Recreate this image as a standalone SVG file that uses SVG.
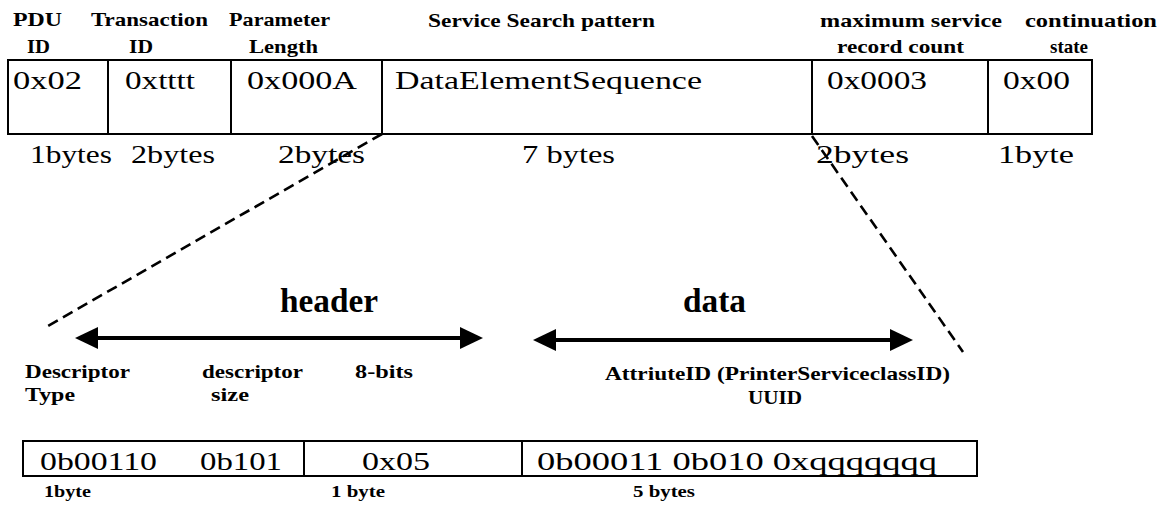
<svg xmlns="http://www.w3.org/2000/svg" width="1161" height="510" viewBox="0 0 1161 510">
  <style>
    text { font-family: "Liberation Serif", "Times New Roman", serif; fill: #000; }
    .lbl { font-size: 19px; font-weight: bold; }
    .val { font-size: 25px; }
    .sz { font-size: 25px; }
    .big { font-size: 33px; font-weight: bold; }
    .sub { font-size: 19px; font-weight: bold; }
    .tiny { font-size: 16px; font-weight: bold; }
    .box { fill: #fff; stroke: #000; stroke-width: 2; }
    .div { stroke: #000; stroke-width: 2; }
    .dash { stroke: #000; stroke-width: 2.6; stroke-dasharray: 11 6; fill: none; }
    .arr { stroke: #000; stroke-width: 4; fill: none; }
    .head { fill: #000; }
  </style>

  <!-- SDP request PDU: field captions -->
  <g id="captions">
    <text class="lbl" x="13" y="26" textLength="49" lengthAdjust="spacingAndGlyphs">PDU</text>
    <text class="lbl" x="27" y="53" textLength="23" lengthAdjust="spacingAndGlyphs">ID</text>
    <text class="lbl" x="91" y="26" textLength="117" lengthAdjust="spacingAndGlyphs">Transaction</text>
    <text class="lbl" x="129" y="53" textLength="24" lengthAdjust="spacingAndGlyphs">ID</text>
    <text class="lbl" x="229" y="26" textLength="101" lengthAdjust="spacingAndGlyphs">Parameter</text>
    <text class="lbl" x="249" y="53" textLength="69" lengthAdjust="spacingAndGlyphs">Length</text>
    <text class="lbl" x="428" y="27" textLength="227" lengthAdjust="spacingAndGlyphs">Service Search pattern</text>
    <text class="lbl" x="820" y="27" textLength="182" lengthAdjust="spacingAndGlyphs">maximum service</text>
    <text class="lbl" x="837" y="53" textLength="127" lengthAdjust="spacingAndGlyphs">record count</text>
    <text class="lbl" x="1025" y="27" textLength="132" lengthAdjust="spacingAndGlyphs">continuation</text>
    <text class="lbl" x="1050" y="53" textLength="38" lengthAdjust="spacingAndGlyphs">state</text>
  </g>

  <!-- SDP request PDU: fields -->
  <g id="pdu">
    <rect class="box" x="8" y="60" width="1084" height="74"/>
    <line class="div" x1="108" y1="60" x2="108" y2="134"/>
    <line class="div" x1="231" y1="60" x2="231" y2="134"/>
    <line class="div" x1="382" y1="60" x2="382" y2="134"/>
    <line class="div" x1="812" y1="60" x2="812" y2="134"/>
    <line class="div" x1="988" y1="60" x2="988" y2="134"/>
    <text class="val" x="13" y="89" textLength="69" lengthAdjust="spacingAndGlyphs">0x02</text>
    <text class="val" x="125" y="89" textLength="70" lengthAdjust="spacingAndGlyphs">0xtttt</text>
    <text class="val" x="247" y="89" textLength="110" lengthAdjust="spacingAndGlyphs">0x000A</text>
    <text class="val" x="395" y="89" textLength="307" lengthAdjust="spacingAndGlyphs">DataElementSequence</text>
    <text class="val" x="827" y="89" textLength="100" lengthAdjust="spacingAndGlyphs">0x0003</text>
    <text class="val" x="1003" y="89" textLength="67" lengthAdjust="spacingAndGlyphs">0x00</text>
  </g>

  <!-- field sizes -->
  <g id="sizes">
    <text class="sz" x="30" y="163" textLength="82" lengthAdjust="spacingAndGlyphs">1bytes</text>
    <text class="sz" x="131" y="163" textLength="84" lengthAdjust="spacingAndGlyphs">2bytes</text>
    <text class="sz" x="278" y="163" textLength="87" lengthAdjust="spacingAndGlyphs">2bytes</text>
    <text class="sz" x="522" y="163" textLength="93" lengthAdjust="spacingAndGlyphs">7 bytes</text>
    <text class="sz" x="816" y="163" textLength="93" lengthAdjust="spacingAndGlyphs">2bytes</text>
    <text class="sz" x="998" y="163" textLength="76" lengthAdjust="spacingAndGlyphs">1byte</text>
  </g>

  <!-- expansion lines and header/data spans -->
  <g id="connectors">
    <line class="dash" x1="382" y1="134" x2="48" y2="326"/>
    <line class="dash" x1="812" y1="136" x2="963" y2="352"/>
    <line class="arr" x1="92" y1="338" x2="466" y2="338"/>
    <polygon class="head" points="75,338 98,327 98,349"/>
    <polygon class="head" points="483,338 460,327 460,349"/>
    <line class="arr" x1="550" y1="340" x2="896" y2="340"/>
    <polygon class="head" points="533,340 556,329 556,351"/>
    <polygon class="head" points="913,340 890,329 890,351"/>
  </g>

  <g id="span-labels">
    <text class="big" x="280" y="312" textLength="98" lengthAdjust="spacingAndGlyphs">header</text>
    <text class="big" x="683" y="312" textLength="63" lengthAdjust="spacingAndGlyphs">data</text>
  </g>

  <!-- data element sequence: captions -->
  <g id="element-captions">
    <text class="sub" x="25" y="378" textLength="105" lengthAdjust="spacingAndGlyphs">Descriptor</text>
    <text class="sub" x="25" y="401" textLength="50" lengthAdjust="spacingAndGlyphs">Type</text>
    <text class="sub" x="202" y="378" textLength="101" lengthAdjust="spacingAndGlyphs">descriptor</text>
    <text class="sub" x="211" y="401" textLength="38" lengthAdjust="spacingAndGlyphs">size</text>
    <text class="sub" x="355" y="378" textLength="58" lengthAdjust="spacingAndGlyphs">8-bits</text>
    <text class="sub" x="605" y="380" textLength="345" lengthAdjust="spacingAndGlyphs">AttriuteID (PrinterServiceclassID)</text>
    <text class="sub" x="748" y="404" textLength="54" lengthAdjust="spacingAndGlyphs">UUID</text>
  </g>

  <!-- data element sequence: fields -->
  <g id="element">
    <rect class="box" x="23" y="441" width="954" height="35"/>
    <line class="div" x1="304" y1="441" x2="304" y2="476"/>
    <line class="div" x1="522" y1="441" x2="522" y2="476"/>
    <text class="val" x="40" y="470" textLength="117" lengthAdjust="spacingAndGlyphs">0b00110</text>
    <text class="val" x="200" y="470" textLength="82" lengthAdjust="spacingAndGlyphs">0b101</text>
    <text class="val" x="362" y="470" textLength="68" lengthAdjust="spacingAndGlyphs">0x05</text>
    <text class="val" x="537" y="470" textLength="400" lengthAdjust="spacingAndGlyphs">0b00011 0b010 0xqqqqqqq</text>
  </g>

  <g id="element-sizes">
    <text class="tiny" x="44" y="497" textLength="47" lengthAdjust="spacingAndGlyphs">1byte</text>
    <text class="tiny" x="331" y="497" textLength="54" lengthAdjust="spacingAndGlyphs">1 byte</text>
    <text class="tiny" x="633" y="497" textLength="62" lengthAdjust="spacingAndGlyphs">5 bytes</text>
  </g>
</svg>
